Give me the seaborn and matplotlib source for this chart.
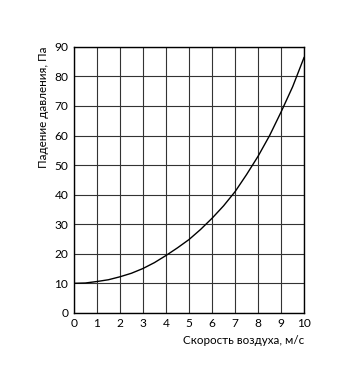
import matplotlib
matplotlib.use("Agg")
import matplotlib.pyplot as plt
import seaborn as sns
import numpy as np
import pandas as pd

speed = [0, 0.5, 1, 1.5, 2, 2.5, 3, 3.5, 4, 4.5, 5, 5.5, 6, 6.5, 7, 7.5, 8, 8.5, 9, 9.5, 10]
pressure = [10, 10.1, 10.6, 11.2, 12.2, 13.4, 15, 17, 19.4, 22, 24.8, 28.2, 32, 36.2, 41, 46.8, 53, 60, 68, 76.5, 86.5]
xticks = list(range(0, 11))
yticks = list(range(0, 100, 10))

sns.set_theme(style="white")
plt.rcParams['font.family'] = ['Lato', 'DejaVu Sans']

df = pd.DataFrame({"speed": speed, "pressure": pressure})
fig = plt.figure(figsize=(3.5, 3.72), dpi=100)
ax = fig.add_axes([0.211, 0.159, 0.658, 0.715])
sns.lineplot(data=df, x="speed", y="pressure", ax=ax, color="black", linewidth=1.0)
ax.set_xlim(0, 10)
ax.set_ylim(0, 90)
ax.set_xticks(xticks)
ax.set_yticks(yticks)
ax.grid(True, color="#333333", linewidth=0.8)
for s in ax.spines.values():
    s.set_color("black")
    s.set_linewidth(1.0)
ax.tick_params(length=0, labelsize=8.6, colors="black", pad=4)
ax.set_xlabel("Скорость воздуха, м/с", fontsize=8.4, color="black", loc="right", labelpad=4)
ax.set_ylabel("Падение давления, Па", fontsize=8.4, color="black", loc="top", labelpad=4)
fig.savefig("out.png", dpi=100)
